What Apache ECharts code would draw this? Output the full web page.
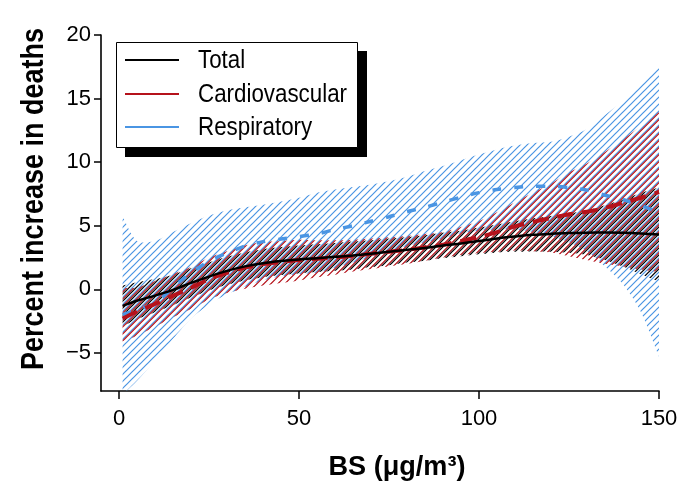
<!DOCTYPE html>
<html><head><meta charset="utf-8">
<script src="https://cdn.jsdelivr.net/npm/echarts@6/dist/echarts.min.js"></script>
<style>html,body{margin:0;padding:0;background:#fff}#c{width:690px;height:488px}</style>
</head><body><div id="c"></div>
<script>
// BS concentration (µg/m3)
const bs = [1,5,10,15,20,25,30,35,40,45,50,55,60,65,70,75,80,85,90,95,100,105,110,115,120,125,130,135,140,145,150];
// Total
const totalMid = [-1.3,-0.9,-0.5,-0.05,0.5,1.0,1.45,1.8,2.05,2.22,2.35,2.45,2.55,2.65,2.8,2.95,3.1,3.25,3.45,3.6,3.8,4.0,4.15,4.28,4.36,4.42,4.45,4.46,4.44,4.38,4.3];
const totalLo  = [-2.9,-2.35,-1.8,-1.25,-0.65,-0.1,0.35,0.7,0.95,1.12,1.25,1.35,1.45,1.55,1.75,1.9,2.1,2.25,2.45,2.6,2.75,2.9,2.95,2.98,2.96,2.87,2.7,2.31,1.79,1.18,0.6];
const totalHi  = [0.3,0.55,0.8,1.15,1.65,2.1,2.55,2.9,3.15,3.32,3.45,3.55,3.65,3.75,3.85,4.0,4.1,4.25,4.45,4.6,4.85,5.1,5.35,5.58,5.76,5.97,6.2,6.61,7.09,7.58,8.0];
// Cardiovascular
const cardioMid = [-2.3,-1.75,-1.15,-0.5,0.1,0.8,1.3,1.7,1.98,2.15,2.3,2.4,2.5,2.65,2.8,2.95,3.1,3.3,3.5,3.8,4.1,4.5,4.95,5.3,5.6,5.9,6.1,6.4,6.8,7.2,7.65];
const cardioLo  = [-4.1,-3.65,-2.95,-2.2,-1.55,-0.8,-0.3,0.05,0.3,0.5,0.7,0.95,1.15,1.4,1.6,1.8,2.0,2.25,2.5,2.7,2.85,2.95,3.05,3.0,2.9,2.6,2.3,2.0,1.8,1.55,1.35];
const cardioHi  = [0.1,0.15,0.65,1.2,1.75,2.5,3.0,3.45,3.7,3.8,3.9,3.85,3.85,3.9,4.0,4.1,4.2,4.35,4.5,4.9,5.35,6.05,6.85,7.6,8.3,9.2,9.9,10.8,11.8,12.85,13.95];
// Respiratory
const respMid = [-2.0,-1.6,-1.1,0.15,1.3,2.2,2.85,3.4,3.75,3.95,4.15,4.35,4.7,5.0,5.35,5.7,6.1,6.45,6.85,7.25,7.6,7.85,8.0,8.1,8.1,8.0,7.8,7.4,7.05,6.6,6.0];
const respLo  = [-8.3,-7.2,-5.6,-3.9,-2.3,-1.2,-0.4,0.2,0.7,1.0,1.2,1.3,1.7,2.1,2.55,3.0,3.4,3.7,4.0,4.4,4.6,4.7,4.7,4.5,4.2,3.7,3.0,1.8,0.4,-1.8,-5.3];
const respHi  = [5.7,3.8,3.8,4.5,5.2,5.8,6.2,6.45,6.65,6.9,7.2,7.6,7.85,8.05,8.25,8.5,8.85,9.3,9.7,10.15,10.6,11.0,11.3,11.5,11.6,12.0,12.6,13.7,14.8,16.2,17.7];

const xTicks = [0,50,100,150];
const yTicks = [-5,0,5,10,15,20];
const seriesNames = ['Total','Cardiovascular','Respiratory'];
const yTitle = 'Percent increase in deaths';
const xTitle = 'BS (\u03bcg/m\u00b3)';

const BLACK = '#000000', RED = '#b5121b', BLUE = '#4a95e3';
const colors = [BLACK, RED, BLUE];

const mctx = document.createElement('canvas').getContext('2d');
function textWidth(font, s) { mctx.font = font; return mctx.measureText(s).width; }
const hasNarrow = textWidth("20px 'Liberation Sans Narrow', monospace", 'Cardiovascular') !== textWidth('20px monospace', 'Cardiovascular');
const BASE = "'Liberation Sans', Arial, sans-serif";
const TICKFONT = hasNarrow ? "'Liberation Sans Narrow', sans-serif" : BASE;
const TICKSIZE = hasNarrow ? 23 : 22;

// diagonal "/" hatch tile; offset shifts the lines so that bands interleave
function hatch(color, step, width, offset) {
  const c = document.createElement('canvas');
  c.width = step; c.height = step;
  const g = c.getContext('2d');
  g.strokeStyle = color; g.lineWidth = width; g.lineCap = 'butt';
  g.beginPath();
  for (let m = -1; m <= 2; m++) {
    const k = offset + m * step; // line x + y = k
    g.moveTo(k + 2, -2); g.lineTo(k - step - 2, step + 2);
  }
  g.stroke();
  return c;
}

function bandSeries(lo, hi, color, step, offset) {
  const pattern = {image: hatch(color, step, 1.2, offset), repeat: 'repeat'};
  return {
    type: 'custom', silent: true, clip: true,
    data: bs.map((x, i) => [x, lo[i], hi[i]]),
    encode: {x: 0, y: [1, 2]},
    renderItem(params, api) {
      if (params.dataIndex !== 0) return null;
      const up = bs.map((x, i) => api.coord([x, hi[i]]));
      const dn = bs.map((x, i) => api.coord([x, lo[i]])).reverse();
      const pts = [up[0], ...up, up[up.length - 1], dn[0], ...dn, dn[dn.length - 1]];
      return {type: 'polygon', shape: {points: pts, smooth: 0.3}, style: {fill: pattern, stroke: null}};
    }
  };
}

function scaledText(font, s, target) { return target / textWidth(font, s); }

const yFont = "bold 32px " + BASE;
const xFont = "bold 28px " + BASE;
const legFont = "25px " + BASE;
const legScale = scaledText(legFont, 'Cardiovascular', 149);

const legendY = [60, 94, 127];
const legendGraphics = [
  {type: 'rect', shape: {x: 125, y: 51, width: 242, height: 106}, style: {fill: BLACK}, z: 100},
  {type: 'rect', shape: {x: 116.5, y: 42.5, width: 241, height: 105}, style: {fill: '#fff', stroke: BLACK, lineWidth: 1}, z: 101}
];
seriesNames.forEach((n, i) => {
  legendGraphics.push({type: 'line', shape: {x1: 125, y1: legendY[i], x2: 179, y2: legendY[i]},
    style: {stroke: colors[i], lineWidth: 2}, z: 102});
  legendGraphics.push({type: 'text', x: 198, y: legendY[i] + 1, scaleX: legScale,
    style: {text: n, font: legFont, fill: BLACK, textAlign: 'left', textVerticalAlign: 'middle'}, z: 102});
});

const chart = echarts.init(document.getElementById('c'), null, {renderer: 'canvas'});
chart.setOption({
  animation: false,
  backgroundColor: '#fff',
  grid: {left: 101, top: 35, right: 31, bottom: 97, containLabel: false},
  xAxis: {type: 'value', min: -5, max: 150,
    axisLine: {show: true, onZero: false, lineStyle: {color: BLACK, width: 1.6}},
    axisTick: {show: true, length: 8, customValues: xTicks, lineStyle: {color: BLACK, width: 1.5}},
    axisLabel: {customValues: xTicks, color: BLACK, fontFamily: TICKFONT, fontSize: TICKSIZE, margin: 17},
    splitLine: {show: false}},
  yAxis: {type: 'value', min: -8, max: 20,
    axisLine: {show: true, onZero: false, lineStyle: {color: BLACK, width: 1.6}},
    axisTick: {show: true, length: 7, customValues: yTicks, lineStyle: {color: BLACK, width: 1.5}},
    axisLabel: {customValues: yTicks, color: BLACK, fontFamily: TICKFONT, fontSize: TICKSIZE, margin: 10,
      formatter: v => v < 0 ? '\u2212' + Math.abs(v) : String(v)},
    splitLine: {show: false}},
  graphic: [
    {type: 'text', x: 34, y: 199, rotation: Math.PI / 2, scaleX: scaledText(yFont, yTitle, 342),
     style: {text: yTitle, font: yFont, fill: BLACK, textAlign: 'center', textVerticalAlign: 'middle'}},
    {type: 'text', x: 397, y: 467, scaleX: scaledText(xFont, xTitle, 137),
     style: {text: xTitle, font: xFont, fill: BLACK, textAlign: 'center', textVerticalAlign: 'middle'}},
    ...legendGraphics
  ],
  series: [
    bandSeries(respLo, respHi, BLUE, 7, 0),
    bandSeries(cardioLo, cardioHi, RED, 7, 1.6),
    bandSeries(totalLo, totalHi, BLACK, 7, 3.8),
    {type: 'line', name: 'Respiratory', data: bs.map((x, i) => [x, respMid[i]]), symbol: 'none', smooth: 0.3,
     color: BLUE, lineStyle: {color: BLUE, width: 3.5, type: [9, 13]}},
    {type: 'line', name: 'Cardiovascular', data: bs.map((x, i) => [x, cardioMid[i]]), symbol: 'none', smooth: 0.3,
     color: RED, lineStyle: {color: RED, width: 4, type: [16, 9]}},
    {type: 'line', name: 'Total', data: bs.map((x, i) => [x, totalMid[i]]), symbol: 'none', smooth: 0.3,
     color: BLACK, lineStyle: {color: BLACK, width: 2.5}}
  ]
});
</script>
</body></html>
